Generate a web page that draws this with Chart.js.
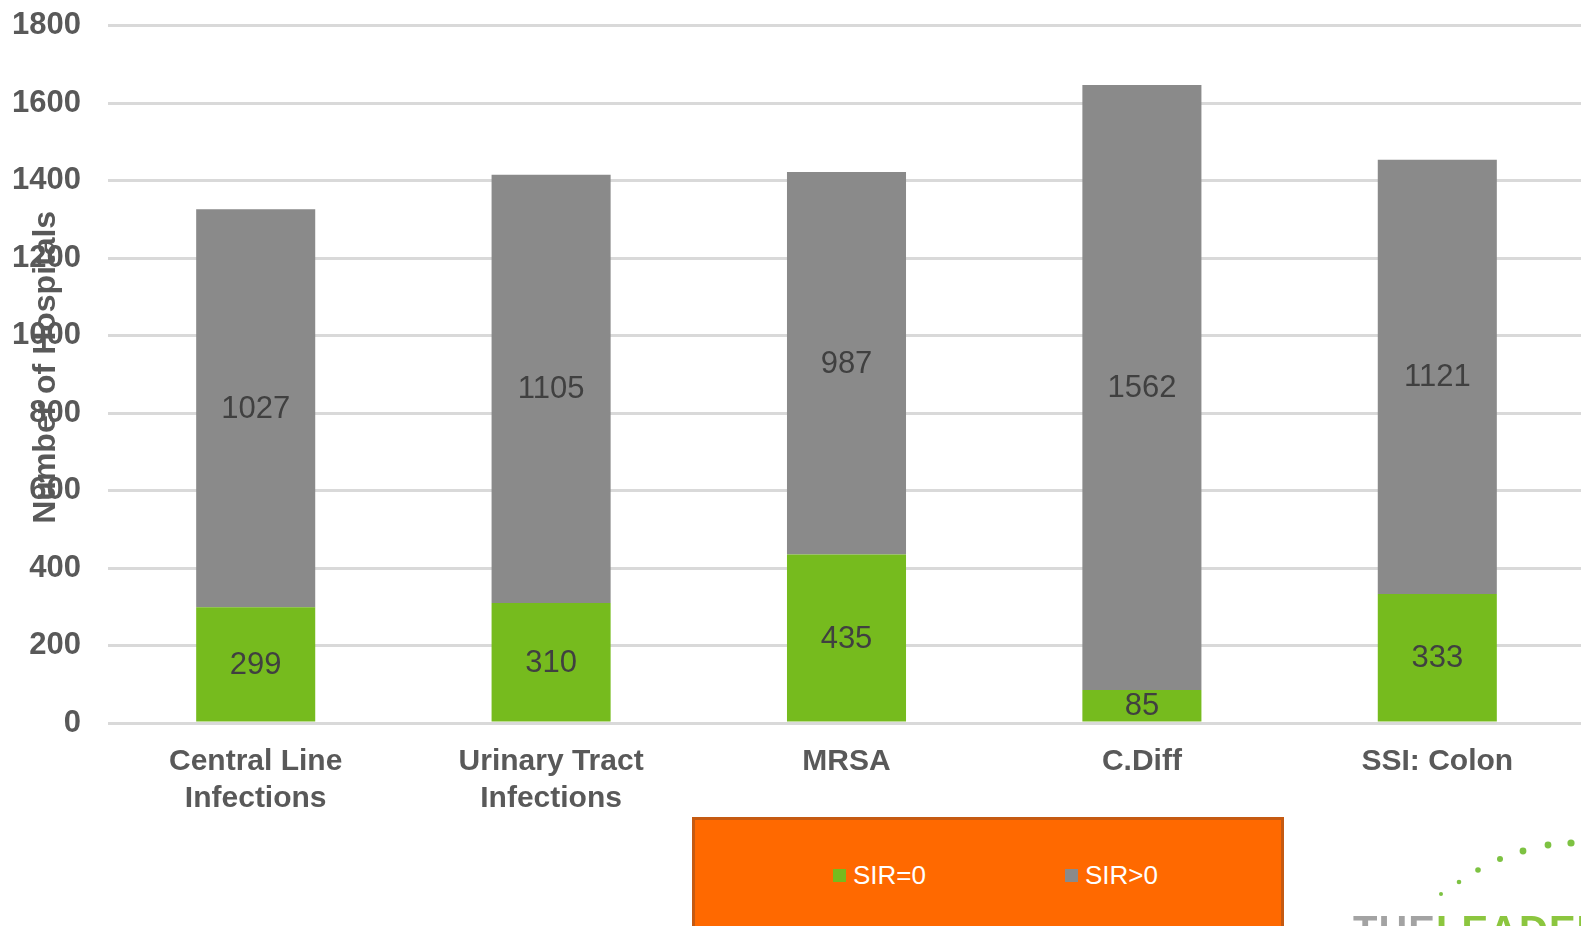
<!DOCTYPE html>
<html>
<head>
<meta charset="utf-8">
<title>Hospitals by SIR</title>
<script src="https://cdn.jsdelivr.net/npm/chart.js@4.4.1/dist/chart.umd.min.js"></script>
<style>
  html, body { margin: 0; padding: 0; background: #ffffff; overflow: hidden; }
  #stage { position: relative; width: 1581px; height: 926px; overflow: hidden; font-family: "Liberation Sans", Arial, sans-serif; }
  #chart { position: absolute; left: 0; top: -20px; }
  #legendBox {
    position: absolute; left: 692px; top: 817px; width: 592px; height: 130px;
    background: #ff6900; border: 3px solid #c55a11; border-bottom: none; box-sizing: border-box;
  }
  .legItem { position: absolute; top: 40px; display: flex; align-items: center; color: #ffffff; font-size: 26px; line-height: 30px; }
  .legItem .sw { width: 13px; height: 13px; margin-right: 7px; }
  #logo { position: absolute; left: 1340px; top: 820px; width: 241px; height: 106px; }
  #logoText { position: absolute; left: 13px; top: 90px; font-size: 40px; font-weight: bold; line-height: 40px; letter-spacing: 1px; white-space: nowrap; }
</style>
</head>
<body>
<div id="stage">
  <canvas id="chart" width="1585" height="946"></canvas>
  <div id="legendBox"></div>
  <div id="logo">
    <svg width="241" height="106" style="position:absolute;left:0;top:0">
      <g fill="#7dc242">
        <circle cx="101" cy="74" r="2"/>
        <circle cx="119" cy="62" r="2.3"/>
        <circle cx="138" cy="50" r="2.8"/>
        <circle cx="160" cy="39" r="3"/>
        <circle cx="183" cy="31" r="3.4"/>
        <circle cx="208" cy="25" r="3.4"/>
        <circle cx="231" cy="23" r="3.6"/>
      </g>
    </svg>
    <div id="logoText"><span style="color:#a3a3a3">THE</span><span style="color:#8cc63f">LEADER</span></div>
  </div>
</div>
<script>
// Infection categories and hospital counts
const categories = [
  ['Central Line', 'Infections'],
  ['Urinary Tract', 'Infections'],
  'MRSA',
  'C.Diff',
  'SSI: Colon'
];
const sirZero  = [299, 310, 435, 85, 333];
const sirAbove = [1027, 1105, 987, 1562, 1121];
const seriesNames = ['SIR=0', 'SIR>0'];
const yTickValues = [0, 200, 400, 600, 800, 1000, 1200, 1400, 1600, 1800];

const green = '#76bb1e';
const grey  = '#8a8a8a';
const axisText = '#595959';

// Value labels centred in each bar segment
const segmentLabels = {
  id: 'segmentLabels',
  afterDatasetsDraw(chart) {
    const ctx = chart.ctx;
    ctx.save();
    ctx.font = '31px "Liberation Sans", Arial, sans-serif';
    ctx.fillStyle = '#404040';
    ctx.textAlign = 'center';
    ctx.textBaseline = 'middle';
    chart.data.datasets.forEach((ds, di) => {
      const meta = chart.getDatasetMeta(di);
      meta.data.forEach((bar, i) => {
        const p = bar.getProps(['x', 'y', 'base'], true);
        ctx.fillText(String(ds.data[i]), p.x, (p.y + p.base) / 2 + 1);
      });
    });
    ctx.restore();
  }
};

// Rotated y-axis title, set close to the tick labels
const yAxisTitle = {
  id: 'yAxisTitle',
  afterDraw(chart) {
    const a = chart.chartArea;
    const ctx = chart.ctx;
    ctx.save();
    ctx.translate(a.left - 62, (a.top + a.bottom) / 2 - 7);
    ctx.rotate(-Math.PI / 2);
    ctx.font = 'bold 32px "Liberation Sans", Arial, sans-serif';
    ctx.fillStyle = axisText;
    ctx.textAlign = 'center';
    ctx.textBaseline = 'middle';
    ctx.fillText('Number of Hospitals', 0, 0);
    ctx.restore();
  }
};

const chart = new Chart(document.getElementById('chart'), {
  type: 'bar',
  data: {
    labels: categories,
    datasets: [
      { label: seriesNames[0], data: sirZero, backgroundColor: green },
      { label: seriesNames[1], data: sirAbove, backgroundColor: grey }
    ]
  },
  options: {
    responsive: false,
    animation: false,
    events: [],
    layout: { padding: { top: 4, left: 0, right: 0, bottom: 0 } },
    plugins: {
      legend: { display: false },
      tooltip: { enabled: false }
    },
    datasets: { bar: { categoryPercentage: 1, barPercentage: 0.403 } },
    scales: {
      x: {
        stacked: true,
        grid: { display: false, drawTicks: false },
        border: { display: false },
        ticks: {
          padding: 20,
          color: axisText,
          maxRotation: 0,
          autoSkip: false,
          font: { family: '"Liberation Sans", Arial, sans-serif', size: 30, weight: 'bold', lineHeight: 1.24 }
        },
        afterFit(scale) { scale.height = 203; }
      },
      y: {
        stacked: true,
        min: 0,
        max: 1800,
        afterBuildTicks(scale) { scale.ticks = yTickValues.map(v => ({ value: v })); },
        grid: { color: '#d9d9d9', lineWidth: 3, drawTicks: false },
        border: { display: false },
        ticks: {
          padding: 27,
          color: axisText,
          callback: (v) => String(v),
          font: { family: '"Liberation Sans", Arial, sans-serif', size: 31, weight: 'bold' }
        },
        afterFit(scale) { scale.width = 108; }
      }
    }
  },
  plugins: [segmentLabels, yAxisTitle]
});

// Legend inside the orange panel, built from the chart's datasets
const box = document.getElementById('legendBox');
const legendLefts = [138, 370];
chart.data.datasets.forEach((ds, i) => {
  const item = document.createElement('div');
  item.className = 'legItem';
  item.style.left = legendLefts[i] + 'px';
  const sw = document.createElement('span');
  sw.className = 'sw';
  sw.style.background = ds.backgroundColor;
  const txt = document.createElement('span');
  txt.textContent = ds.label;
  item.appendChild(sw);
  item.appendChild(txt);
  box.appendChild(item);
});
</script>
</body>
</html>
